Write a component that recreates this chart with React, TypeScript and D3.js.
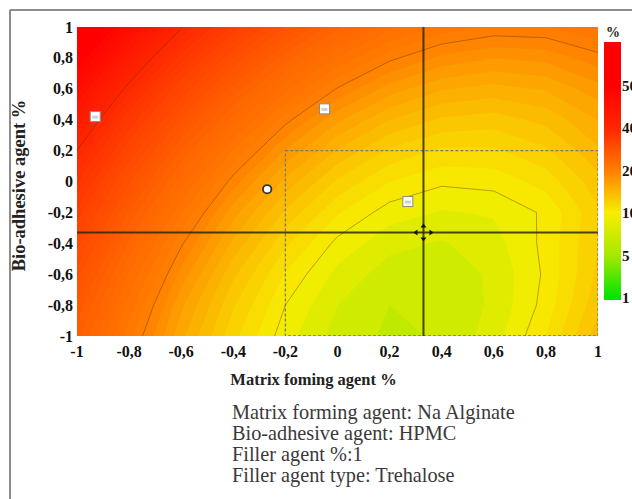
import React from "react";
import * as d3 from "d3";

// ---- data ----
const xTicks = [-1, -0.8, -0.6, -0.4, -0.2, 0, 0.2, 0.4, 0.6, 0.8, 1];
const yTicks = [-1, -0.8, -0.6, -0.4, -0.2, 0, 0.2, 0.4, 0.6, 0.8, 1];
const gridX = [-1, -0.8, -0.6, -0.4, -0.2, 0, 0.2, 0.4, 0.6, 0.8, 1];
const gridY = [1, 0.8, 0.6, 0.4, 0.2, 0, -0.2, -0.4, -0.6, -0.8, -1];
// estimated response (%) at each grid node, rows from y = 1 (top) to y = -1 (bottom)
const row1 = [54.3, 46.8, 40.2, 34.6, 29.9, 26.2, 23.4, 21.6, 20.8, 20.9, 21.9];
const row08 = [50.3, 42.9, 36.4, 30.9, 26.4, 22.9, 20.3, 18.7, 18.0, 18.3, 19.6];
const row06 = [46.5, 39.3, 32.9, 27.6, 23.3, 19.9, 17.5, 16.1, 15.6, 16.1, 17.6];
const row04 = [43.1, 35.9, 29.8, 24.6, 20.4, 17.2, 15.0, 13.8, 13.5, 14.3, 16.0];
const row02 = [40.0, 32.9, 26.9, 21.9, 17.9, 14.9, 12.8, 11.8, 11.8, 12.8, 14.8];
const row0 = [37.1, 30.2, 24.4, 19.5, 15.7, 12.8, 11.0, 10.2, 10.4, 11.4, 13.6];
const rowM02 = [34.6, 27.8, 22.1, 17.4, 13.8, 11.1, 9.5, 8.9, 9.1, 10.2, 12.8];
const rowM04 = [32.3, 25.7, 20.2, 15.7, 12.2, 9.7, 8.3, 7.9, 8.6, 10.3, 13.0];
const rowM06 = [30.4, 23.9, 18.6, 14.2, 10.9, 8.7, 7.5, 7.3, 8.2, 10.2, 13.2];
const rowM08 = [28.7, 22.5, 17.2, 13.1, 10.0, 8.0, 7.0, 7.1, 8.2, 10.4, 13.7];
const rowM1 = [27.4, 21.3, 16.3, 12.3, 9.4, 7.6, 6.8, 7.1, 8.5, 11.0, 14.5];
const responseRows = [row1, row08, row06, row04, row02, row0, rowM02, rowM04, rowM06, rowM08, rowM1];

const colorbarValues = [1, 5, 10, 20, 40, 50];
const colorbarColors = ["#00e400", "#a6e800", "#f8ee00", "#ff7f00", "#ff2600", "#ff0000"];
const contourLineLevels = [10, 20, 40];
const designPoints = [
  { x: -0.93, y: 0.42 },
  { x: -0.05, y: 0.47 },
  { x: 0.27, y: -0.13 },
];
const centerPoints = [{ x: -0.27, y: -0.05 }];
const crosshair = { x: 0.33, y: -0.33 };
const sweetSpot = { x0: -0.2, x1: 1, y0: -1, y1: 0.2 };
const xTitle = "Matrix foming agent %";
const yTitle = "Bio-adhesive agent %";
const infoLines = [
  "Matrix forming agent: Na Alginate",
  "Bio-adhesive agent: HPMC",
  "Filler agent %:1",
  "Filler agent type: Trehalose",
];

const W = 632;
const H = 499;
const serif = "'Liberation Serif', 'Times New Roman', serif";

const fmt = (v: number) => (Math.abs(v) < 1e-9 ? "0" : String(+v.toFixed(1)).replace(".", ","));

export default function App() {
  const x = d3.scaleLinear().domain([-1, 1]).range([77, 598]);
  const y = d3.scaleLinear().domain([-1, 1]).range([336, 27]);

  const nx = gridX.length;
  const ny = gridY.length;
  const values = responseRows.flat();
  const gx = d3.scaleLinear().domain([0.5, nx - 0.5]).range([x(gridX[0]), x(gridX[nx - 1])]);
  const gy = d3.scaleLinear().domain([0.5, ny - 0.5]).range([y(gridY[0]), y(gridY[ny - 1])]);
  const path = d3.geoPath(
    d3.geoTransform({
      point(px: number, py: number) {
        (this as any).stream.point(gx(px), gy(py));
      },
    })
  );

  const color = d3
    .scaleLinear<string>()
    .domain(colorbarValues)
    .range(colorbarColors)
    .interpolate(d3.interpolateRgb)
    .clamp(true);

  const thresholds = d3.range(5, 60, 1);
  const bands = d3.contours().size([nx, ny]).thresholds(thresholds)(values);
  const lines = d3.contours().size([nx, ny]).thresholds(contourLineLevels)(values);

  // colorbar
  const cbTop = 42;
  const cbBottom = 300;
  const cbPos = d3.scaleLinear().domain([0, colorbarValues.length - 1]).range([298, 85.5]);
  const cbH = cbBottom - cbTop;

  const [x0, x1] = x.range();
  const [yb, yt] = y.range();

  const arrow = 3;
  const cx = x(crosshair.x);
  const cy = y(crosshair.y);

  return (
    <svg
      width={W}
      height={H}
      style={{ position: "absolute", left: 0, top: 0, background: "#fff" }}
      fontFamily={serif}
    >
      <defs>
        <clipPath id="plotClip">
          <rect x={x0} y={yt} width={x1 - x0} height={yb - yt} />
        </clipPath>
        <linearGradient id="cbGrad" x1="0" y1="1" x2="0" y2="0">
          {colorbarValues.map((v, i) => (
            <stop key={v} offset={(cbBottom - cbPos(i)) / cbH} stopColor={colorbarColors[i]} />
          ))}
          <stop offset={1} stopColor={colorbarColors[colorbarColors.length - 1]} />
        </linearGradient>
      </defs>

      {/* outer frame */}
      <line x1={10} y1={10} x2={W} y2={10} stroke="#8d8d8d" strokeWidth={2} />
      <line x1={10} y1={10} x2={10} y2={H} stroke="#8d8d8d" strokeWidth={2} />

      {/* contour bands */}
      <g clipPath="url(#plotClip)">
        {bands.map((b) => (
          <path
            key={b.value}
            d={path(b as any) || ""}
            fill={color(b.value + 0.5)}
            stroke={color(b.value + 0.5)}
            strokeWidth={0.6}
          />
        ))}
        {lines.map((l) => (
          <path
            key={"l" + l.value}
            d={path(l as any) || ""}
            fill="none"
            stroke="rgba(90,50,0,0.45)"
            strokeWidth={0.9}
          />
        ))}
        {/* sweet spot */}
        <rect
          x={x(sweetSpot.x0)}
          y={y(sweetSpot.y1)}
          width={x(sweetSpot.x1) - x(sweetSpot.x0)}
          height={y(sweetSpot.y0) - y(sweetSpot.y1)}
          fill="none"
          stroke="#7a7a6a"
          strokeWidth={1.3}
          strokeDasharray="3,2"
        />
        {/* crosshair */}
        <line x1={x0} x2={x1} y1={cy} y2={cy} stroke="rgba(45,40,0,0.85)" strokeWidth={2} />
        <line x1={cx} x2={cx} y1={yt} y2={yb} stroke="rgba(45,40,0,0.85)" strokeWidth={2} />
      </g>

      {/* crosshair arrows */}
      <g fill="#111">
        <path d={`M${cx},${cy - 9} l${-arrow},${arrow + 1} h${2 * arrow} z`} />
        <path d={`M${cx},${cy + 9} l${-arrow},${-arrow - 1} h${2 * arrow} z`} />
        <path d={`M${cx - 10},${cy} l${arrow + 1},${-arrow} v${2 * arrow} z`} />
        <path d={`M${cx + 10},${cy} l${-arrow - 1},${-arrow} v${2 * arrow} z`} />
      </g>

      {/* design points */}
      {designPoints.map((p, i) => (
        <g key={i}>
          <rect x={x(p.x) - 5} y={y(p.y) - 5} width={10} height={10} fill="#fff" stroke="#8a8a8a" strokeWidth={1} />
          <rect x={x(p.x) - 3} y={y(p.y) - 1} width={6} height={3} fill="#d0d0d0" />
        </g>
      ))}
      {centerPoints.map((p, i) => (
        <circle key={i} cx={x(p.x)} cy={y(p.y)} r={4.2} fill="#fff" stroke="#333" strokeWidth={1.8} />
      ))}

      {/* x ticks */}
      {xTicks.map((t) => (
        <text
          key={"x" + t}
          x={x(t)}
          y={357}
          textAnchor="middle"
          fontSize={16}
          fontWeight="bold"
          fill="#111"
        >
          {fmt(t)}
        </text>
      ))}
      {/* y ticks */}
      {yTicks.map((t) => (
        <text
          key={"y" + t}
          x={73}
          y={y(t) + 5.5}
          textAnchor="end"
          fontSize={16}
          fontWeight="bold"
          fill="#111"
        >
          {fmt(t)}
        </text>
      ))}

      <text x={(x0 + x1) / 2 - 24} y={385} textAnchor="middle" fontSize={16.5} fontWeight="bold" fill="#222">
        {xTitle}
      </text>
      <text
        transform={`translate(25, ${(yt + yb) / 2 + 4}) rotate(-90)`}
        textAnchor="middle"
        fontSize={18.5}
        fontWeight="bold"
        fill="#222"
      >
        {yTitle}
      </text>

      {/* colorbar */}
      <rect x={604} y={cbTop} width={17} height={cbH} fill="url(#cbGrad)" />
      <text x={606} y={37} fontSize={14} fontWeight="bold" fill="#222">
        %
      </text>
      {colorbarValues.map((v, i) => (
        <text key={"c" + v} x={622} y={cbPos(i) + 5} fontSize={15} fontWeight="bold" fill="#111">
          {v}
        </text>
      ))}

      {/* info text */}
      {infoLines.map((s, i) => (
        <text key={s} x={232} y={419 + i * 21} fontSize={20.3} fill="#3a3a3a">
          {s}
        </text>
      ))}
    </svg>
  );
}
